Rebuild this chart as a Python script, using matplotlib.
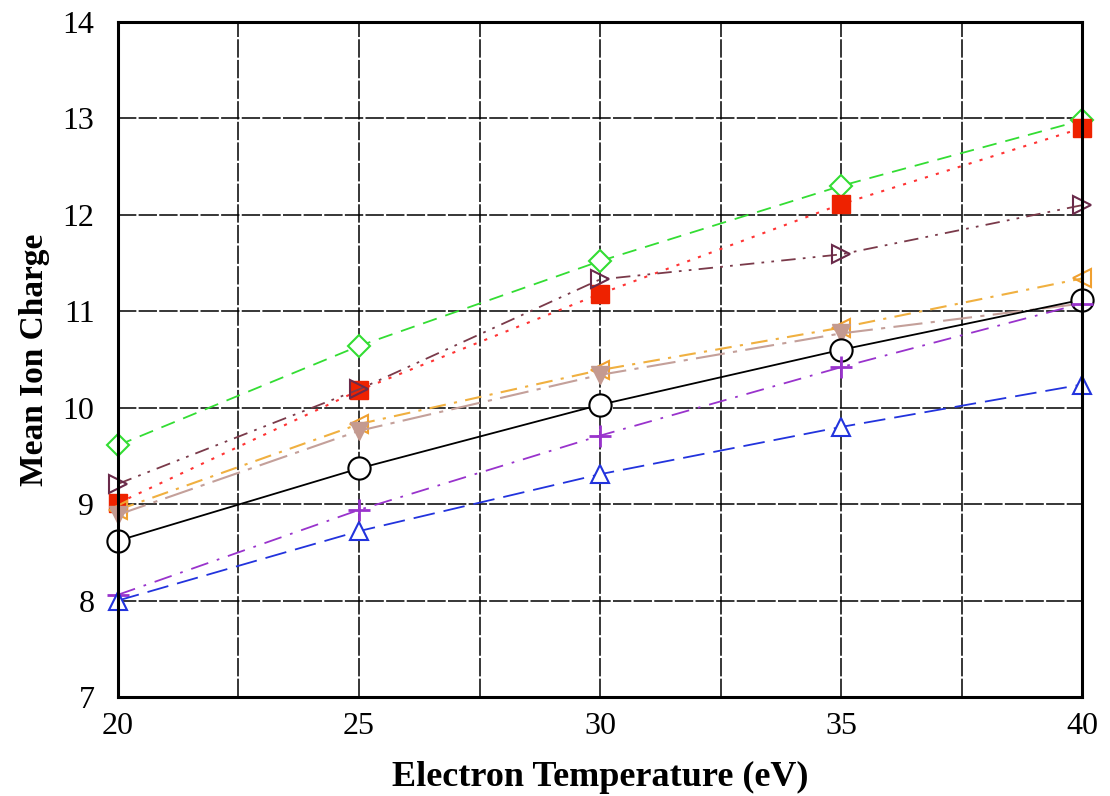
import numpy as np
import matplotlib.pyplot as plt

plt.rcParams['font.family'] = ['Liberation Serif', 'DejaVu Serif']

temp = [20, 25, 30, 35, 40]
green = [9.61, 10.64, 11.52, 12.30, 12.98]
red = [9.01, 10.18, 11.18, 12.11, 12.90]
maroon = [9.21, 10.19, 11.33, 11.59, 12.10]
orange = [8.94, 9.83, 10.39, 10.83, 11.34]
tan = [8.89, 9.76, 10.34, 10.77, 11.08]
black = [8.62, 9.37, 10.03, 10.60, 11.12]
purple = [8.06, 8.94, 9.71, 10.42, 11.08]
blue = [8.00, 8.72, 9.31, 9.80, 10.24]

fig = plt.figure(figsize=(11.1, 7.96), dpi=100)
ax = fig.add_axes([0.1063, 0.1244, 0.8685, 0.848])

kw = dict(clip_on=False)
ax.plot(temp, green, color='#33dd33', ls=(0, (8, 5)), lw=1.3, marker='D', ms=11,
        mfc='white', mec='#33dd33', mew=1.5, zorder=3, **kw)
ax.plot(temp, red, color='#ff3333', ls=(0, (1.5, 4)), lw=1.5, marker='s', ms=13,
        mfc='#ee2200', mec='#ee2200', zorder=3, **kw)
ax.plot(temp, maroon, color='#7a3a4a', ls=(0, (8, 4, 1.5, 4, 1.5, 4)), lw=1.3, marker='>', ms=13,
        mfc='none', mec='#6a2a4a', mew=1.5, zorder=4, **kw)
ax.plot(temp, orange, color='#f0b040', ls=(0, (8, 4, 1.5, 4)), lw=1.5, marker='<', ms=13,
        mfc='none', mec='#f0a030', mew=1.5, zorder=3, **kw)
ax.plot(temp, tan, color='#c4a09a', ls=(0, (14, 4, 2, 4)), lw=1.5, marker='v', ms=13,
        mfc='#c49a90', mec='#c49a90', zorder=3, **kw)
ax.plot(temp, black, color='black', ls='-', lw=1.3, marker='o', ms=16,
        mfc='white', mec='black', mew=1.5, zorder=3, **kw)
ax.plot(temp, purple, color='#9933cc', ls=(0, (10, 5, 1.5, 5)), lw=1.3, marker='+', ms=16,
        mec='#9933cc', mew=2, zorder=3, **kw)
ax.plot(temp, blue, color='#2233dd', ls=(0, (12, 5)), lw=1.3, marker='^', ms=13,
        mfc='white', mec='#2233dd', mew=1.5, zorder=3, **kw)

ax.set_xlim(20, 40)
ax.set_ylim(7, 14)
ax.set_xticks([20, 25, 30, 35, 40])
ax.set_xticks([22.5, 27.5, 32.5, 37.5], minor=True)
ax.set_yticks(range(7, 15))
ax.grid(True, which='both', axis='x', color='black', ls=(0, (12, 1.5)), lw=1.1)
ax.grid(True, which='major', axis='y', color='black', ls=(0, (12, 1.5)), lw=1.1)
ax.set_axisbelow(True)
ax.tick_params(which='both', length=0, labelsize=23)
ax.tick_params(axis='x', pad=11)
ax.tick_params(axis='y', pad=17)
for s in ax.spines.values():
    s.set_linewidth(2.2)
    s.set_zorder(5)

ax.set_xlabel('Electron Temperature (eV)', fontsize=26, fontweight='bold', labelpad=14)
ax.set_ylabel('Mean Ion Charge', fontsize=24, fontweight='bold', labelpad=9)

fig.savefig('out.png', dpi=100)
